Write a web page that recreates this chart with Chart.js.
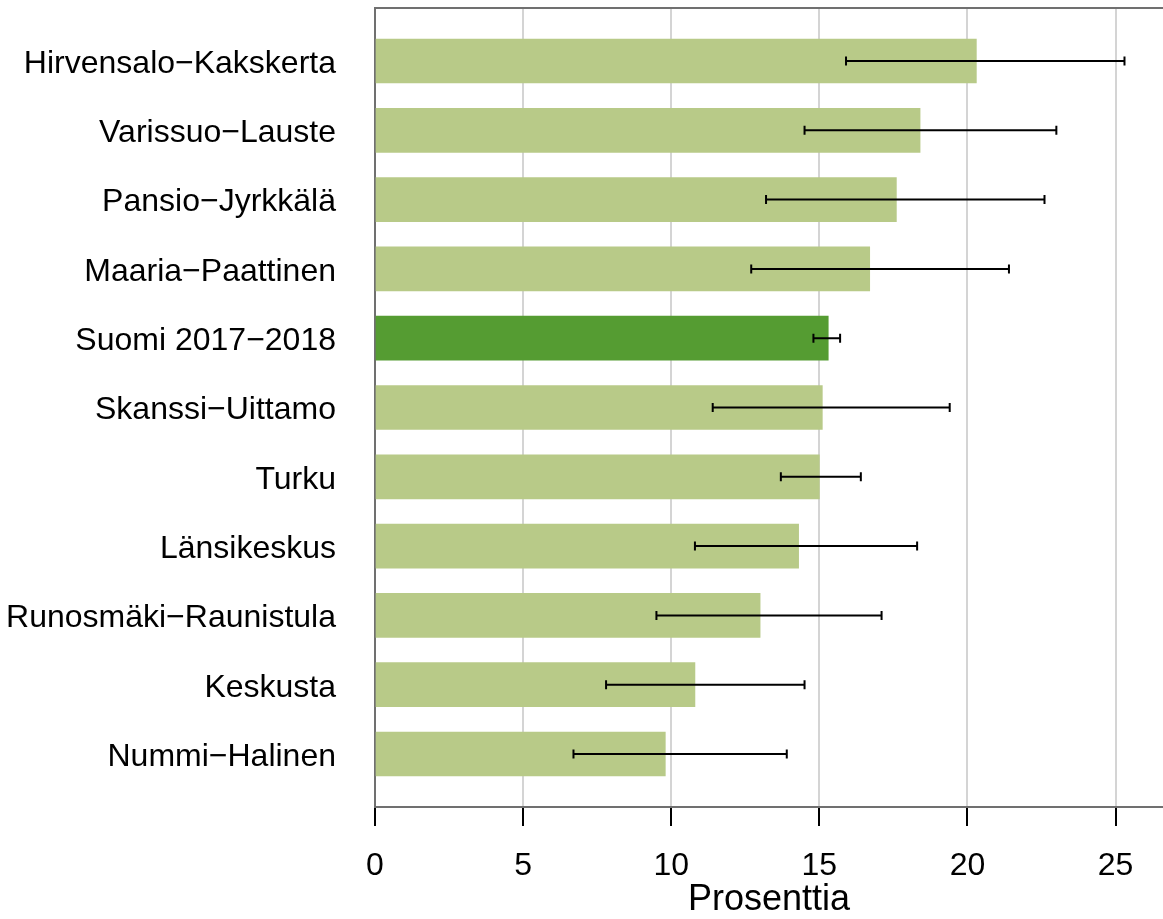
<!DOCTYPE html>
<html>
<head>
<meta charset="utf-8">
<script src="https://cdn.jsdelivr.net/npm/chart.js@4/dist/chart.umd.min.js"></script>
<style>
  html, body { margin: 0; padding: 0; background: #ffffff; }
  #wrap { width: 1163px; height: 919px; }
</style>
</head>
<body>
<div id="wrap"><canvas id="c" width="1163" height="919"></canvas></div>
<script>
// ---- data ----
const categories = [
  'Hirvensalo−Kakskerta',
  'Varissuo−Lauste',
  'Pansio−Jyrkkälä',
  'Maaria−Paattinen',
  'Suomi 2017−2018',
  'Skanssi−Uittamo',
  'Turku',
  'Länsikeskus',
  'Runosmäki−Raunistula',
  'Keskusta',
  'Nummi−Halinen'
];
const values = [20.3, 18.4, 17.6, 16.7, 15.3, 15.1, 15.0, 14.3, 13.0, 10.8, 9.8];
const lower  = [15.9, 14.5, 13.2, 12.7, 14.8, 11.4, 13.7, 10.8, 9.5, 7.8, 6.7];
const upper  = [25.3, 23.0, 22.6, 21.4, 15.7, 19.4, 16.4, 18.3, 17.1, 14.5, 13.9];
const xTicks = [0, 5, 10, 15, 20, 25];
const highlight = 'Suomi 2017−2018';
const axisTitle = 'Prosenttia';

// ---- styles ----
const FONT = "'Liberation Sans', Arial, sans-serif";
const lightGreen = '#b8ca88';
const darkGreen = '#559c32';
const axisGray = '#707070';

const errorBars = {
  id: 'errorBars',
  afterDatasetsDraw(chart) {
    const { ctx, scales: { x, y } } = chart;
    ctx.save();
    ctx.strokeStyle = '#000000';
    ctx.lineWidth = 2;
    ctx.lineCap = 'butt';
    for (let i = 0; i < categories.length; i++) {
      const py = y.getPixelForValue(i);
      const x1 = x.getPixelForValue(lower[i]);
      const x2 = x.getPixelForValue(upper[i]);
      ctx.beginPath();
      ctx.moveTo(x1, py); ctx.lineTo(x2, py);
      ctx.moveTo(x1, py - 4.5); ctx.lineTo(x1, py + 4.5);
      ctx.moveTo(x2, py - 4.5); ctx.lineTo(x2, py + 4.5);
      ctx.stroke();
    }
    ctx.restore();
  }
};

const frameTop = {
  id: 'frameTop',
  afterDraw(chart) {
    const { ctx, chartArea } = chart;
    ctx.save();
    ctx.strokeStyle = axisGray;
    ctx.lineWidth = 2;
    ctx.beginPath();
    ctx.moveTo(chartArea.left - 1, chartArea.top);
    ctx.lineTo(chartArea.right, chartArea.top);
    ctx.stroke();
    ctx.restore();
  }
};

new Chart(document.getElementById('c'), {
  type: 'bar',
  data: {
    datasets: [{
      data: values.map((v, i) => ({ x: v, y: i })),
      backgroundColor: categories.map(c => c === highlight ? darkGreen : lightGreen),
      borderWidth: 0,
      barThickness: 44
    }]
  },
  options: {
    indexAxis: 'y',
    responsive: false,
    animation: false,
    events: [],
    layout: { padding: { top: 8, right: 0, bottom: 0, left: 0 } },
    plugins: { legend: { display: false }, tooltip: { enabled: false } },
    scales: {
      x: {
        type: 'linear',
        position: 'bottom',
        min: 0,
        max: 26.6,
        offset: false,
        afterBuildTicks: s => { s.ticks = xTicks.map(v => ({ value: v })); },
        afterFit: s => { s.height = 112; },
        grid: {
          color: ctx => (ctx.tick && ctx.tick.value === 0) ? 'rgba(0,0,0,0)' : '#d4d4d4',
          lineWidth: 2,
          offset: false,
          drawTicks: true,
          tickLength: 19,
          tickColor: '#000000',
          tickWidth: 2
        },
        border: { display: true, color: axisGray, width: 2 },
        ticks: {
          color: '#000000',
          font: { family: FONT, size: 32 },
          padding: 21,
          maxRotation: 0
        },
        title: {
          display: true,
          text: axisTitle,
          color: '#000000',
          font: { family: FONT, size: 36 },
          padding: { top: 0, bottom: -3 }
        }
      },
      y: {
        type: 'linear',
        reverse: true,
        offset: false,
        min: -0.765,
        max: 10.765,
        afterBuildTicks: s => { s.ticks = categories.map((c, i) => ({ value: i })); },
        afterFit: s => { s.width = 375; s.paddingTop = 0; s.paddingBottom = 0; },
        grid: { display: false, drawTicks: false, offset: false },
        border: { display: true, color: axisGray, width: 2 },
        ticks: {
          color: '#000000',
          font: { family: FONT, size: 32 },
          padding: 39,
          labelOffset: 3,
          autoSkip: false,
          callback: v => categories[v] ?? ''
        }
      }
    }
  },
  plugins: [errorBars, frameTop]
});
</script>
</body>
</html>
